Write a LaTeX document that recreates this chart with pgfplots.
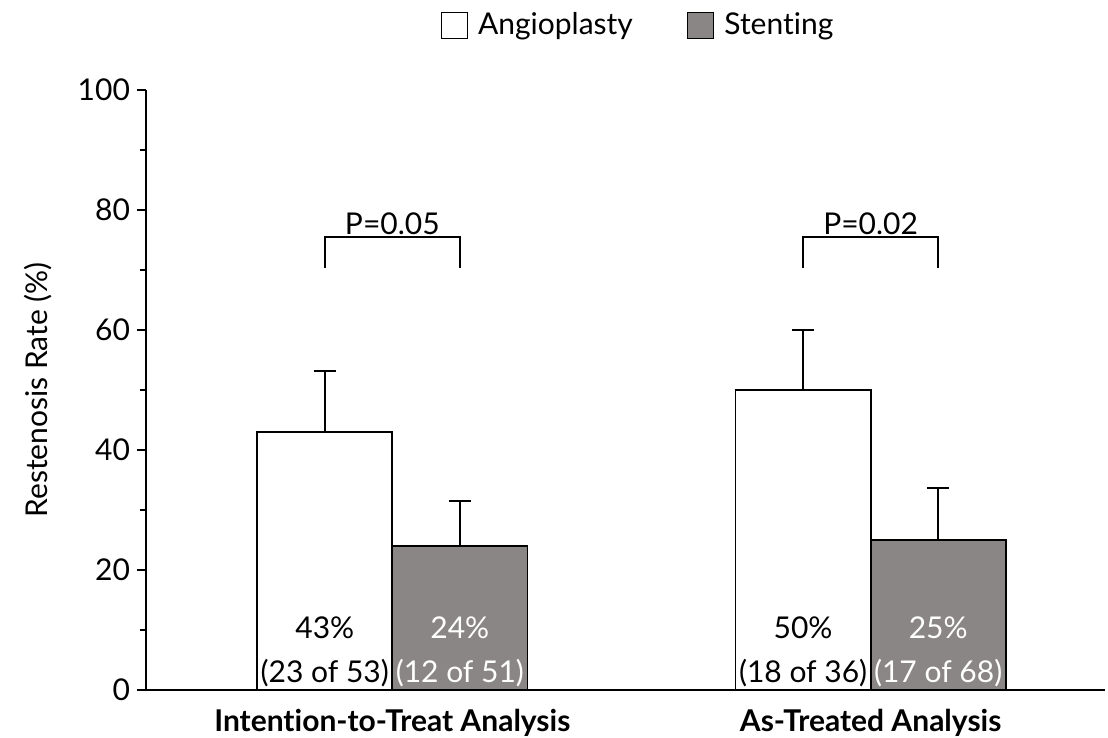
\documentclass[border=0pt]{standalone}
\usepackage{pgfplots}
\pgfplotsset{compat=1.18}
\usepackage{fontspec}
\setmainfont{Lato}[Ligatures={NoCommon,NoRare}]
\definecolor{stentgray}{RGB}{138,134,134}
\newcommand{\lbl}{\fontsize{15}{18}\selectfont}

\pgfplotsset{
  sqlegend/.style={legend image code/.code={%
    \draw[##1, draw=black, line width=0.6pt] (0pt,-6.5pt) rectangle (13pt,6.5pt);
    \path (16pt,0pt);}},
}

\begin{document}
\begin{tikzpicture}
\begin{axis}[
  at={(0,0)}, anchor=south west,
  scale only axis, width=479.5pt, height=300pt,
  xmin=-0.515, xmax=1.49, ymin=0, ymax=100,
  axis x line=bottom, axis y line=left,
  axis line style={-, line width=0.9pt},
  xtick={0,1},
  xticklabels={Intention-to-Treat Analysis, As-Treated Analysis},
  xticklabel style={font=\lbl\bfseries, yshift=-1.5pt},
  major x tick style={draw=none},
  ytick={0,20,...,100}, minor ytick={10,30,...,90},
  tick align=outside, major tick length=4.5pt, minor tick length=3pt,
  tick style={line width=0.9pt, black},
  yticklabel style={font=\lbl},
  /pgf/number format/assume math mode=true,
  ylabel={Restenosis Rate (\%)},
  ylabel style={font=\lbl},
  ylabel shift=6pt,
  ybar=0pt, bar width=0.2824,
  clip=false,
  legend style={at={(0.514,1.108)}, anchor=center, draw=none, font=\lbl,
    legend columns=2,
    /tikz/every even column/.append style={column sep=25pt}},
]
% Angioplasty
\addplot[sqlegend, bar shift=-0.1412, draw=black, line width=0.9pt, fill=white,
  error bars/.cd, y dir=plus, y explicit,
  error bar style={line width=0.9pt, black},
  error mark options={rotate=90, mark size=5.5pt, line width=0.9pt, black}]
  coordinates {(0,43) +- (0,10.2) (1,50) +- (0,10)};
\addlegendentry{Angioplasty}
% Stenting
\addplot[sqlegend, bar shift=0.1412, draw=black, line width=0.9pt, fill=stentgray,
  error bars/.cd, y dir=plus, y explicit,
  error bar style={line width=0.9pt, black},
  error mark options={rotate=90, mark size=5.5pt, line width=0.9pt, black}]
  coordinates {(0,24) +- (0,7.5) (1,25) +- (0,8.7)};
\addlegendentry{Stenting}

% counts inside the bars
\node[font=\lbl] at (axis cs:-0.1412,10.3) {43\%};
\node[font=\lbl] at (axis cs:-0.1412,2.8) {(23 of 53)};
\node[font=\lbl, text=white] at (axis cs:0.1412,10.3) {24\%};
\node[font=\lbl, text=white] at (axis cs:0.1412,2.8) {(12 of 51)};
\node[font=\lbl] at (axis cs:0.8588,10.3) {50\%};
\node[font=\lbl] at (axis cs:0.8588,2.8) {(18 of 36)};
\node[font=\lbl, text=white] at (axis cs:1.1412,10.3) {25\%};
\node[font=\lbl, text=white] at (axis cs:1.1412,2.8) {(17 of 68)};

% significance brackets
\draw[line width=0.9pt] (axis cs:-0.1412,70.3) |- (axis cs:0.1412,75.5) -- (axis cs:0.1412,70.3);
\draw[line width=0.9pt] (axis cs:0.8588,70.3) |- (axis cs:1.1412,75.5) -- (axis cs:1.1412,70.3);
\node[font=\lbl] at (axis cs:0,77.7) {P=0.05};
\node[font=\lbl] at (axis cs:1,77.7) {P=0.02};
\end{axis}
\pgfresetboundingbox
\path (-73pt,-24pt) rectangle (481pt,345pt);
\end{tikzpicture}
\end{document}
